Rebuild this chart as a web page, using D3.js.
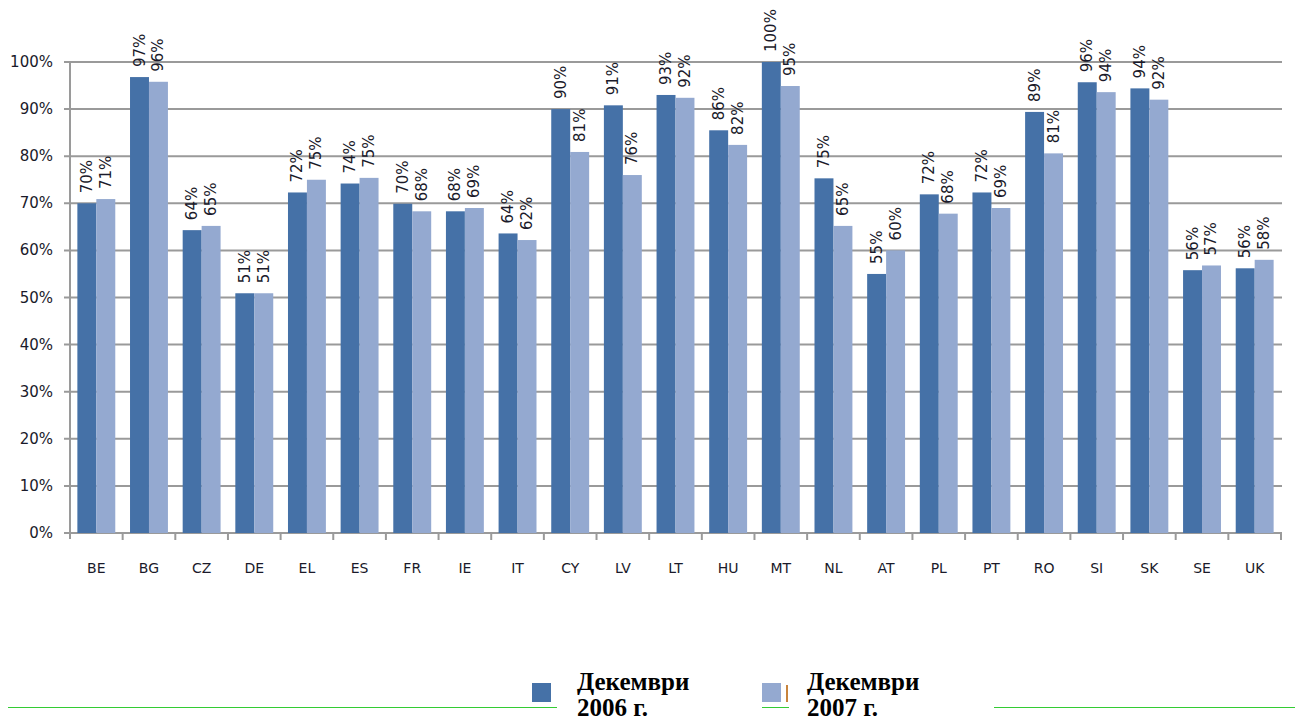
<!DOCTYPE html>
<html>
<head>
<meta charset="utf-8">
<script src="https://cdn.jsdelivr.net/npm/d3@7"></script>
<style>
  body { margin: 0; background: #fff; }
  svg { display: block; }
</style>
</head>
<body>
<div id="chart"></div>
<script>
// data
var countries = ["BE","BG","CZ","DE","EL","ES","FR","IE","IT","CY","LV","LT",
                 "HU","MT","NL","AT","PL","PT","RO","SI","SK","SE","UK"];
var dec2006 = [70.0,96.8,64.3,50.9,72.3,74.2,69.9,68.3,63.6,90.0,90.8,93.0,
               85.5,100,75.3,55.0,71.9,72.3,89.4,95.7,94.4,55.8,56.2];
var dec2007 = [70.9,95.8,65.2,50.9,75.0,75.4,68.3,69.0,62.2,80.9,76.0,92.4,
               82.4,94.9,65.2,60.0,67.8,69.0,80.6,93.6,92.0,56.8,58.0];
var seriesNames = [["Декември","2006 г."],["Декември","2007 г."]];
var yTicks = [0,10,20,30,40,50,60,70,80,90,100];

var width = 1295, height = 722;
var colors = ["#4571a7", "#94a9d0"];

var svg = d3.select("#chart").append("svg")
    .attr("width", width)
    .attr("height", height);

var x = d3.scaleBand()
  .domain(countries)
  .range([70, 1281])
  .paddingInner(0.28)
  .paddingOuter(0.14);

var x1 = d3.scaleBand()
  .domain([0, 1])
  .range([0, x.bandwidth()]);

var y = d3.scaleLinear()
  .domain([0, 100])
  .range([533, 62]);

// gridlines
svg.append("g")
  .selectAll("line")
  .data(yTicks)
  .enter().append("line")
    .attr("x1", 64)
    .attr("x2", 1282)
    .attr("y1", function(d) { return y(d); })
    .attr("y2", function(d) { return y(d); })
    .attr("stroke", "#9a9a9a")
    .attr("stroke-width", 2);

// y axis line
svg.append("line")
  .attr("x1", 70).attr("x2", 70)
  .attr("y1", y(100)).attr("y2", y(0) + 6)
  .attr("stroke", "#9a9a9a")
  .attr("stroke-width", 2);

// x tick marks between categories
var bounds = countries.map(function(c) { return x(c) - x.step() * x.paddingInner() / 2; });
bounds.push(1281);
svg.append("g")
  .selectAll("line")
  .data(bounds.slice(1))
  .enter().append("line")
    .attr("x1", function(d) { return d; })
    .attr("x2", function(d) { return d; })
    .attr("y1", y(0))
    .attr("y2", y(0) + 7)
    .attr("stroke", "#9a9a9a")
    .attr("stroke-width", 2);

// y tick labels
svg.append("g")
  .selectAll("text")
  .data(yTicks)
  .enter().append("text")
    .attr("x", 53)
    .attr("y", function(d) { return y(d) + 5; })
    .attr("text-anchor", "end")
    .style("font-family", "DejaVu Sans")
    .style("font-size", "15px")
    .style("fill", "#1a1a2a")
    .text(function(d) { return d + "%"; });

// x tick labels
svg.append("g")
  .selectAll("text")
  .data(countries)
  .enter().append("text")
    .attr("x", function(d) { return x(d) + x.bandwidth() / 2; })
    .attr("y", 573)
    .attr("text-anchor", "middle")
    .style("font-family", "DejaVu Sans")
    .style("font-size", "14px")
    .style("fill", "#1a1a2a")
    .text(function(d) { return d; });

// bars + rotated value labels
[dec2006, dec2007].forEach(function(vals, s) {
  var g = svg.append("g");
  g.selectAll("rect")
    .data(vals)
    .enter().append("rect")
      .attr("x", function(d, i) { return x(countries[i]) + x1(s); })
      .attr("y", function(d) { return y(d); })
      .attr("width", x1.bandwidth())
      .attr("height", function(d) { return y(0) - y(d); })
      .attr("fill", colors[s]);

  g.selectAll("text")
    .data(vals)
    .enter().append("text")
      .attr("transform", function(d, i) {
        var cx = x(countries[i]) + x1(s) + x1.bandwidth() / 2 + 5;
        return "translate(" + cx + "," + (y(d) - 10) + ") rotate(-90)";
      })
      .attr("text-anchor", "start")
      .style("font-family", "DejaVu Sans")
      .style("font-size", "15px")
      .style("fill", "#1a1a2a")
      .text(function(d) { return Math.round(d) + "%"; });
});

// bottom lines
svg.append("line").attr("x1", 8).attr("x2", 557).attr("y1", 707.5).attr("y2", 707.5)
  .attr("stroke", "#33cc33").attr("stroke-width", 1);
svg.append("line").attr("x1", 762).attr("x2", 789).attr("y1", 707.5).attr("y2", 707.5)
  .attr("stroke", "#33cc33").attr("stroke-width", 1);
svg.append("line").attr("x1", 994).attr("x2", 1295).attr("y1", 707.5).attr("y2", 707.5)
  .attr("stroke", "#33cc33").attr("stroke-width", 1);

// legend
var legendX = [532, 762];
var legendTextX = [577, 807];
seriesNames.forEach(function(name, s) {
  svg.append("rect")
    .attr("x", legendX[s]).attr("y", 683)
    .attr("width", 19).attr("height", 19)
    .attr("fill", colors[s]);
  var t = svg.append("text")
    .attr("x", legendTextX[s])
    .attr("y", 690)
    .style("font-family", "Liberation Serif")
    .style("font-weight", "bold")
    .style("font-size", "25px")
    .style("fill", "#000");
  t.append("tspan").attr("x", legendTextX[s]).text(name[0]);
  t.append("tspan").attr("x", legendTextX[s]).attr("dy", 26).text(name[1]);
});
svg.append("line").attr("x1", 787).attr("x2", 787).attr("y1", 685).attr("y2", 702)
  .attr("stroke", "#c8843c").attr("stroke-width", 2);
</script>
</body>
</html>
